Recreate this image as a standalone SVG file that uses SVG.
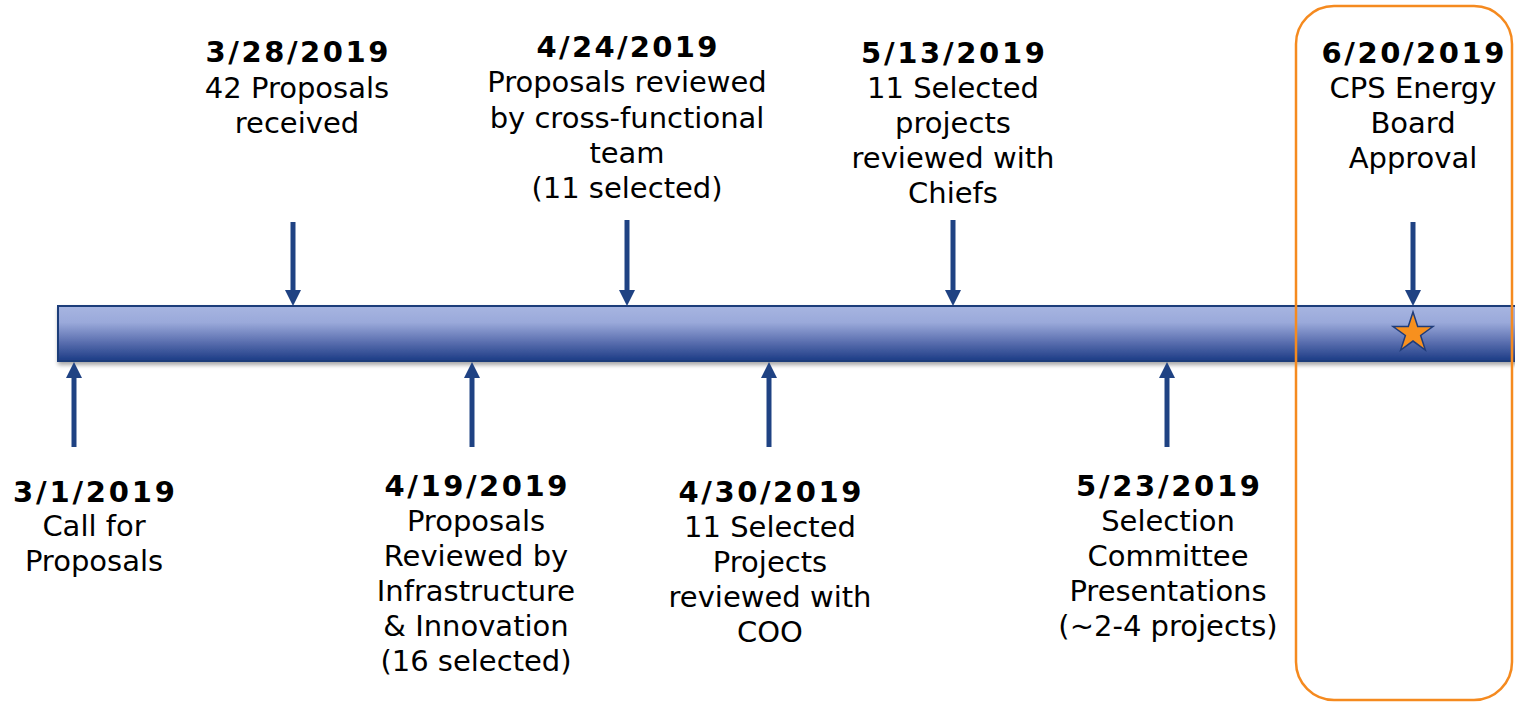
<svg xmlns="http://www.w3.org/2000/svg" width="1515" height="702" viewBox="0 0 1515 702">
<style>
text{font-family:"DejaVu Sans","Verdana",sans-serif;font-size:29px;fill:#000;text-anchor:middle}
.d{font-weight:bold}
.arr{stroke:#1f4283;stroke-width:5;fill:none;marker-end:url(#ah)}
</style>
<defs>
<linearGradient id="barG" x1="0" y1="0" x2="0" y2="1">
<stop offset="0" stop-color="#a7b5e1"/>
<stop offset="0.3" stop-color="#9aa9da"/>
<stop offset="0.65" stop-color="#5c70b0"/>
<stop offset="1" stop-color="#1b3b85"/>
</linearGradient>
<filter id="sh" x="-5%" y="-20%" width="110%" height="160%">
<feGaussianBlur in="SourceAlpha" stdDeviation="2"/>
<feOffset dx="1" dy="3" result="b"/>
<feComponentTransfer><feFuncA type="linear" slope="0.35"/></feComponentTransfer>
<feMerge><feMergeNode/><feMergeNode in="SourceGraphic"/></feMerge>
</filter>
<marker id="ah" viewBox="0 0 16 16" refX="0" refY="8" markerWidth="16" markerHeight="16" markerUnits="userSpaceOnUse" orient="auto">
<path d="M0,0 L16,8 L0,16 z" fill="#1f4283"/>
</marker>
</defs>
<rect width="1515" height="702" fill="#fff"/>
<g id="timeline-bar">
<rect x="58" y="306" width="1470" height="55" fill="url(#barG)" stroke="#1f3c7a" stroke-width="2" filter="url(#sh)"/>
</g>
<g id="connectors">
<line class="arr" x1="293" y1="222" x2="293" y2="290"/>
<line class="arr" x1="627" y1="220" x2="627" y2="290"/>
<line class="arr" x1="953" y1="220" x2="953" y2="290"/>
<line class="arr" x1="1413" y1="222" x2="1413" y2="290"/>
<line class="arr" x1="74" y1="447" x2="74" y2="378"/>
<line class="arr" x1="472" y1="447" x2="472" y2="378"/>
<line class="arr" x1="769" y1="447" x2="769" y2="378"/>
<line class="arr" x1="1167" y1="447" x2="1167" y2="378"/>
</g>
<g id="highlight-box">
<rect x="1296" y="6" width="216" height="694" rx="38" fill="none" stroke="#f58a1f" stroke-width="2.5"/>
</g>
<g id="star">
<polygon points="1413,312 1417.71,326.51 1432.97,326.51 1420.63,335.48 1425.34,349.99 1413,341.02 1400.66,349.99 1405.37,335.48 1393.03,326.51 1408.29,326.51" fill="#f7901e" stroke="#1f3c7a" stroke-width="1.5"/>
</g>
<g id="node-0328">
<text class="d" x="297" y="62" textLength="183" lengthAdjust="spacing">3/28/2019</text>
<text x="297" y="98">42 Proposals</text>
<text x="297" y="133">received</text>
</g>
<g id="node-0424">
<text class="d" x="627" y="57" textLength="181" lengthAdjust="spacing">4/24/2019</text>
<text x="627" y="92">Proposals reviewed</text>
<text x="627" y="128">by cross-functional</text>
<text x="627" y="163">team</text>
<text x="627" y="198">(11 selected)</text>
</g>
<g id="node-0513">
<text class="d" x="953" y="63" textLength="184" lengthAdjust="spacing">5/13/2019</text>
<text x="953" y="98">11 Selected</text>
<text x="953" y="133">projects</text>
<text x="953" y="168">reviewed with</text>
<text x="953" y="203">Chiefs</text>
</g>
<g id="node-0620">
<text class="d" x="1413" y="63" textLength="183" lengthAdjust="spacing">6/20/2019</text>
<text x="1413" y="98">CPS Energy</text>
<text x="1413" y="133">Board</text>
<text x="1413" y="168">Approval</text>
</g>
<g id="node-0301">
<text class="d" x="94" y="502" textLength="162" lengthAdjust="spacing">3/1/2019</text>
<text x="94" y="536">Call for</text>
<text x="94" y="571">Proposals</text>
</g>
<g id="node-0419">
<text class="d" x="476" y="496" textLength="183" lengthAdjust="spacing">4/19/2019</text>
<text x="476" y="531">Proposals</text>
<text x="476" y="566">Reviewed by</text>
<text x="476" y="601">Infrastructure</text>
<text x="476" y="636">&amp; Innovation</text>
<text x="476" y="671">(16 selected)</text>
</g>
<g id="node-0430">
<text class="d" x="770" y="502" textLength="183" lengthAdjust="spacing">4/30/2019</text>
<text x="770" y="537">11 Selected</text>
<text x="770" y="572">Projects</text>
<text x="770" y="607">reviewed with</text>
<text x="770" y="642">COO</text>
</g>
<g id="node-0523">
<text class="d" x="1168" y="496" textLength="184" lengthAdjust="spacing">5/23/2019</text>
<text x="1168" y="531">Selection</text>
<text x="1168" y="566">Committee</text>
<text x="1168" y="601">Presentations</text>
<text x="1168" y="636">(~2-4 projects)</text>
</g>
</svg>
